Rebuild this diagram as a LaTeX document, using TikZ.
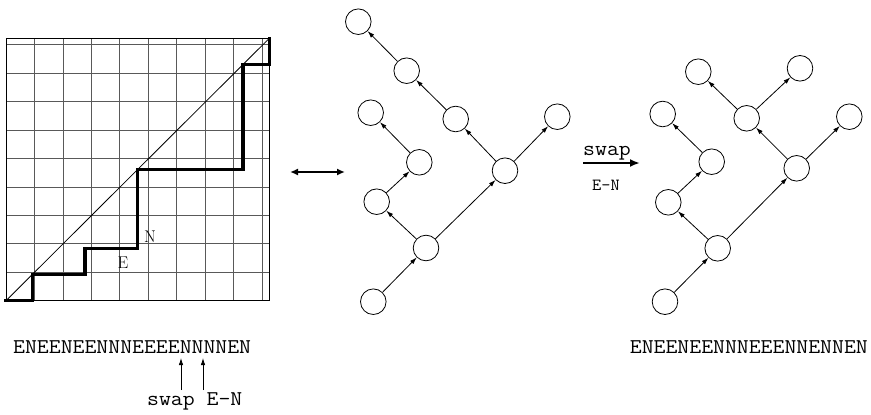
\documentclass[tikz,border=0pt]{standalone}
\usepackage{fontspec}
\usepackage{graphicx}
\usetikzlibrary{arrows.meta}
\newcommand{\codetxt}[1]{{\fontsize{21}{25}\selectfont\ttfamily\scalebox{1.1}[1]{#1}}}
\newcommand{\smallcode}[1]{{\fontsize{17}{20}\selectfont\ttfamily\scalebox{1.05}[1]{#1}}}
\tikzset{
  tnode/.style={draw, circle, line width=0.8pt, minimum size=25.6pt, inner sep=0pt},
  tedge/.style={line width=0.8pt, -{Latex[length=7pt,width=4.5pt]}},
  gridline/.style={black!65, line width=0.7pt},
  pathline/.style={line width=3.2pt, line cap=rect, line join=miter},
  lbl/.style={font=\fontsize{17}{19}\selectfont, inner sep=0pt},
  bigarrow/.style={line width=2.6pt, -{Latex[length=10pt,width=8pt]}},
  dblarrow/.style={line width=2pt, {Latex[length=8pt,width=7pt]}-{Latex[length=8pt,width=7pt]}},
  uparrow/.style={line width=0.8pt, -{Latex[length=7pt,width=4.5pt]}},
  txt/.style={inner sep=0pt}
}
\begin{document}
\begin{tikzpicture}[x=1pt,y=-1pt]
\useasboundingbox (0,0) rectangle (871,415);
% grid with Dyck path
\begin{scope}[shift={(6,300.7)}, x=26.33pt, y=26.24pt]
  \draw[gridline] (0,0) grid (10,10);
  \draw[line width=0.8pt] (0,0) rectangle (10,10);
  \draw[line width=0.8pt] (0,0) -- (10,10);
  \draw[pathline] (0,0) -- (1,0) -- (1,1) -- (3,1) -- (3,2) -- (5,2) -- (5,5) -- (9,5) -- (9,9) -- (10,9) -- (10,10);
  \node[lbl] (lE) at (4.44,1.44) {E};
  \node[lbl] (lN) at (5.47,2.43) {N};
\end{scope}
% double arrow
\coordinate (da1) at (290,172);
\coordinate (da2) at (345,172);
\draw[dblarrow] (da1) -- (da2);
% left tree
\node[tnode] (A1) at (373.3,301.7) {};
\node[tnode] (B1) at (426,248) {};
\node[tnode] (C1) at (376.7,201.7) {};
\node[tnode] (D1) at (505,170.7) {};
\node[tnode] (E1) at (419.3,162.3) {};
\node[tnode] (F1) at (370.7,112.7) {};
\node[tnode] (G1) at (455.7,119) {};
\node[tnode] (H1) at (557.3,116.7) {};
\node[tnode] (I1) at (406.7,70.7) {};
\node[tnode] (J1) at (358.3,21.7) {};
\draw[tedge] (A1) -- (B1);
\draw[tedge] (B1) -- (C1);
\draw[tedge] (B1) -- (D1);
\draw[tedge] (C1) -- (E1);
\draw[tedge] (E1) -- (F1);
\draw[tedge] (D1) -- (G1);
\draw[tedge] (D1) -- (H1);
\draw[tedge] (G1) -- (I1);
\draw[tedge] (I1) -- (J1);
% swap arrow
\coordinate (sa1) at (583,163);
\coordinate (sa2) at (640,163);
\draw[bigarrow] (sa1) -- (sa2);
\node[txt, anchor=base] (swtop) at (607,155) {\codetxt{swap}};
\node[txt, anchor=base] (swbot) at (606,190) {\smallcode{E-N}};
% right tree
\node[tnode] (A2) at (665,301.7) {};
\node[tnode] (B2) at (717.7,248.3) {};
\node[tnode] (C2) at (668.3,202.3) {};
\node[tnode] (D2) at (796.7,168.3) {};
\node[tnode] (E2) at (711.7,161.7) {};
\node[tnode] (F2) at (662.7,114) {};
\node[tnode] (G2) at (746.7,118.3) {};
\node[tnode] (H2) at (849.3,116.7) {};
\node[tnode] (I2) at (698.3,71.7) {};
\node[tnode] (J2) at (800,68.3) {};
\draw[tedge] (A2) -- (B2);
\draw[tedge] (B2) -- (C2);
\draw[tedge] (B2) -- (D2);
\draw[tedge] (C2) -- (E2);
\draw[tedge] (E2) -- (F2);
\draw[tedge] (D2) -- (G2);
\draw[tedge] (D2) -- (H2);
\draw[tedge] (G2) -- (I2);
\draw[tedge] (G2) -- (J2);
% strings
\node[txt, anchor=base west] (s1) at (13,353) {\codetxt{ENEENEENNNEEEENNNNEN}};
\node[txt, anchor=base east] (s2) at (868,353) {\codetxt{ENEENEENNNEEENNENNEN}};
% swap arrows under left string
\coordinate (u1a) at (181,390);
\coordinate (u1b) at (181,358);
\coordinate (u2a) at (203,390);
\coordinate (u2b) at (203,358);
\draw[uparrow] (u1a) -- (u1b);
\draw[uparrow] (u2a) -- (u2b);
\node[txt, anchor=base west] (swl) at (147,405) {\codetxt{swap E-N}};
\end{tikzpicture}
\end{document}
